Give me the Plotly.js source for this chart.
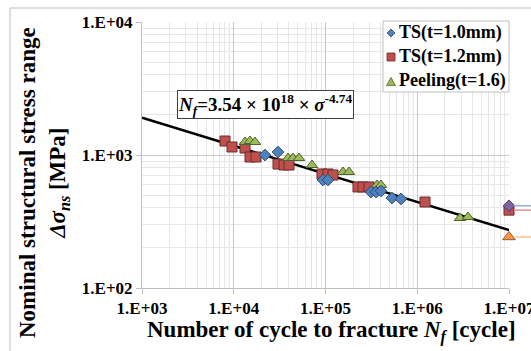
<!DOCTYPE html>
<html>
<head>
<meta charset="utf-8">
<script src="https://cdn.plot.ly/plotly-3.0.1.min.js"></script>
<style>html,body{margin:0;padding:0;background:#fff;}#chart{width:531px;height:351px;}</style>
</head>
<body>
<div id="chart"></div>
<script>
// ---- data ----
var seriesNames = ['TS(t=1.0mm)', 'TS(t=1.2mm)', 'Peeling(t=1.6)'];

var ts10N = [21900, 30360, 93900, 106500, 313300, 355200, 402600, 530600, 665000];
var ts10S = [1000, 1053, 649, 649, 527, 527, 536, 475, 467];

var ts12N = [8030, 9570, 13270, 15030, 17480, 30360, 35290, 40010, 91600, 106500, 120700, 226000, 256300, 298000, 1215000];
var ts12S = [1274, 1149, 1129, 966, 966, 855, 841, 841, 720, 720, 707, 575, 575, 575, 443];

var peelN = [13270, 15030, 17040, 39020, 44230, 51420, 71280, 155100, 180400, 364100, 402600, 2923000, 3573000];
var peelS = [1252, 1274, 1252, 949, 949, 949, 841, 745, 745, 595, 595, 336, 342];

// run-outs (not failed at 1E+07)
var runN = [10000000];
var runTS10S = [415];
var runTS12S = [385];
var runPeelS = [242];

// fitted curve N_f = 3.54e18 * sigma^-4.74 (end points)
var fitN = [1000, 10000000];
var fitS = [1906, 273];

var xTickVals = [1e3, 1e4, 1e5, 1e6, 1e7];
var xTickText = ['1.E+03', '1.E+04', '1.E+05', '1.E+06', '1.E+07'];
var yTickVals = [1e2, 1e3, 1e4];
var yTickText = ['1.E+02', '1.E+03', '1.E+04'];

// ---- layout helpers (pixel -> paper) ----
var W = 531, H = 351, ML = 142, MR = 22, MT = 22, MB = 63;
var PW = W - ML - MR, PH = H - MT - MB;
function px(x) { return (x - ML) / PW; }
function py(y) { return (H - MB - y) / PH; }

var serif = 'Liberation Serif, Times New Roman, serif';

var blue = '#4f81bd', red = '#c0504d', green = '#9bbb59';

var traces = [
  {x: fitN, y: fitS, mode: 'lines', line: {color: '#000000', width: 2.5}, hoverinfo: 'skip', showlegend: false},
  {x: ts12N, y: ts12S, mode: 'markers', name: seriesNames[1],
   marker: {symbol: 'square', size: 10, color: red, line: {color: '#6b2c2a', width: 1}}},
  {x: peelN, y: peelS, mode: 'markers', name: seriesNames[2],
   marker: {symbol: 'triangle-up', size: 10, color: green, line: {color: '#4f6130', width: 1}}},
  {x: ts10N, y: ts10S, mode: 'markers', name: seriesNames[0],
   marker: {symbol: 'diamond', size: 9, color: blue, line: {color: '#2c4a70', width: 1}}},
  {x: runN, y: runTS12S, mode: 'markers', cliponaxis: false, showlegend: false,
   marker: {symbol: 'square', size: 10, color: red, line: {color: '#6b2c2a', width: 1}}},
  {x: runN, y: runTS10S, mode: 'markers', cliponaxis: false, showlegend: false,
   marker: {symbol: 'diamond', size: 9, color: '#8064a2', line: {color: '#4a3a5e', width: 1}}},
  {x: runN, y: runPeelS, mode: 'markers', cliponaxis: false, showlegend: false,
   marker: {symbol: 'triangle-up', size: 11, color: '#f79646', line: {color: '#9a5a24', width: 1}}}
];

var shapes = [
  // outer frame
  {type: 'rect', xref: 'paper', yref: 'paper', x0: px(10), x1: px(560), y0: py(8), y1: py(380),
   line: {color: '#bfbfbf', width: 1}, layer: 'below'},
  // run-out arrows
  {type: 'line', xref: 'paper', yref: 'y', x0: px(514), x1: px(545), y0: runTS10S[0], y1: runTS10S[0], line: {color: '#95b3d7', width: 1.5}},
  {type: 'line', xref: 'paper', yref: 'y', x0: px(514), x1: px(545), y0: runTS12S[0], y1: runTS12S[0], line: {color: '#e6908e', width: 1.5}},
  {type: 'line', xref: 'paper', yref: 'y', x0: px(516), x1: px(545), y0: runPeelS[0], y1: runPeelS[0], line: {color: '#fac090', width: 1.5}},
  // legend box
  {type: 'rect', xref: 'paper', yref: 'paper', x0: px(383), x1: px(509), y0: py(92), y1: py(21),
   line: {color: '#bfbfbf', width: 1}, fillcolor: '#ffffff', layer: 'above'}
];

// legend symbols
var legRows = [33, 57, 81], symX = 391;
function diamondPath(cx, cy, r) {
  return 'M' + px(cx - r) + ',' + py(cy) + ' L' + px(cx) + ',' + py(cy - r) + ' L' + px(cx + r) + ',' + py(cy) + ' L' + px(cx) + ',' + py(cy + r) + ' Z';
}
function triPath(cx, cy, r) {
  return 'M' + px(cx - r) + ',' + py(cy + r * 0.8) + ' L' + px(cx) + ',' + py(cy - r) + ' L' + px(cx + r) + ',' + py(cy + r * 0.8) + ' Z';
}
shapes.push({type: 'path', xref: 'paper', yref: 'paper', path: diamondPath(symX, legRows[0], 4), fillcolor: blue, line: {color: '#2c4a70', width: 0.8}, layer: 'above'});
shapes.push({type: 'rect', xref: 'paper', yref: 'paper', x0: px(symX - 4), x1: px(symX + 4), y0: py(legRows[1] + 4), y1: py(legRows[1] - 4), fillcolor: red, line: {color: '#6b2c2a', width: 0.8}, layer: 'above'});
shapes.push({type: 'path', xref: 'paper', yref: 'paper', path: triPath(symX, legRows[2] + 1, 4.5), fillcolor: green, line: {color: '#4f6130', width: 0.8}, layer: 'above'});

var annotations = [];
for (var i = 0; i < seriesNames.length; i++) {
  annotations.push({xref: 'paper', yref: 'paper', x: px(397), y: py(legRows[i]), xanchor: 'left', yanchor: 'middle',
    text: seriesNames[i], showarrow: false, font: {family: serif, size: 18, color: '#000', weight: 'bold'}});
}
// equation box
annotations.push({xref: 'paper', yref: 'paper', x: px(265.5), y: py(104), xanchor: 'center', yanchor: 'middle',
  text: '<i>N</i><sub><i>f</i></sub>=3.54 × 10<sup>18</sup> × <i>σ</i><sup>-4.74</sup>', showarrow: false,
  font: {family: serif, size: 19, color: '#000', weight: 'bold'},
  bgcolor: '#ffffff', bordercolor: '#404040', borderwidth: 1, borderpad: 0});
// axis titles
annotations.push({xref: 'paper', yref: 'paper', x: px(331), y: py(332), xanchor: 'center', yanchor: 'middle',
  text: 'Number of cycle to fracture <i>N</i><sub><i>f</i></sub> [cycle]', showarrow: false,
  font: {family: serif, size: 23, color: '#000', weight: 'bold'}});
annotations.push({xref: 'paper', yref: 'paper', x: px(44), y: py(183), xanchor: 'center', yanchor: 'middle', textangle: -90,
  text: 'Nominal structural stress range<br><i>Δσ</i><sub><i>ns</i></sub> [MPa]', showarrow: false,
  font: {family: serif, size: 23, color: '#000', weight: 'bold'}});

var axisCommon = {
  type: 'log', showline: true, linecolor: '#bfbfbf', linewidth: 1, mirror: false,
  ticks: 'outside', ticklen: 5, tickcolor: '#bfbfbf', showgrid: true, gridcolor: '#c8c8c8', gridwidth: 1,
  zeroline: false, tickmode: 'array', ticklabeloverflow: 'allow',
  tickfont: {family: serif, size: 17, color: '#000', weight: 'bold'},
  minor: {dtick: 'D1', showgrid: true, gridcolor: '#e6e6e6', gridwidth: 1, ticks: ''}
};

var layout = {
  width: W, height: H,
  margin: {l: ML, r: MR, t: MT, b: MB, pad: 0},
  paper_bgcolor: '#ffffff', plot_bgcolor: '#ffffff',
  showlegend: false,
  xaxis: Object.assign({}, axisCommon, {range: [3, 7], tickvals: xTickVals, ticktext: xTickText}),
  yaxis: Object.assign({}, axisCommon, {range: [2, 4], tickvals: yTickVals, ticktext: yTickText}),
  shapes: shapes,
  annotations: annotations
};

Plotly.newPlot('chart', traces, layout, {displayModeBar: false, staticPlot: true});
</script>
</body>
</html>
